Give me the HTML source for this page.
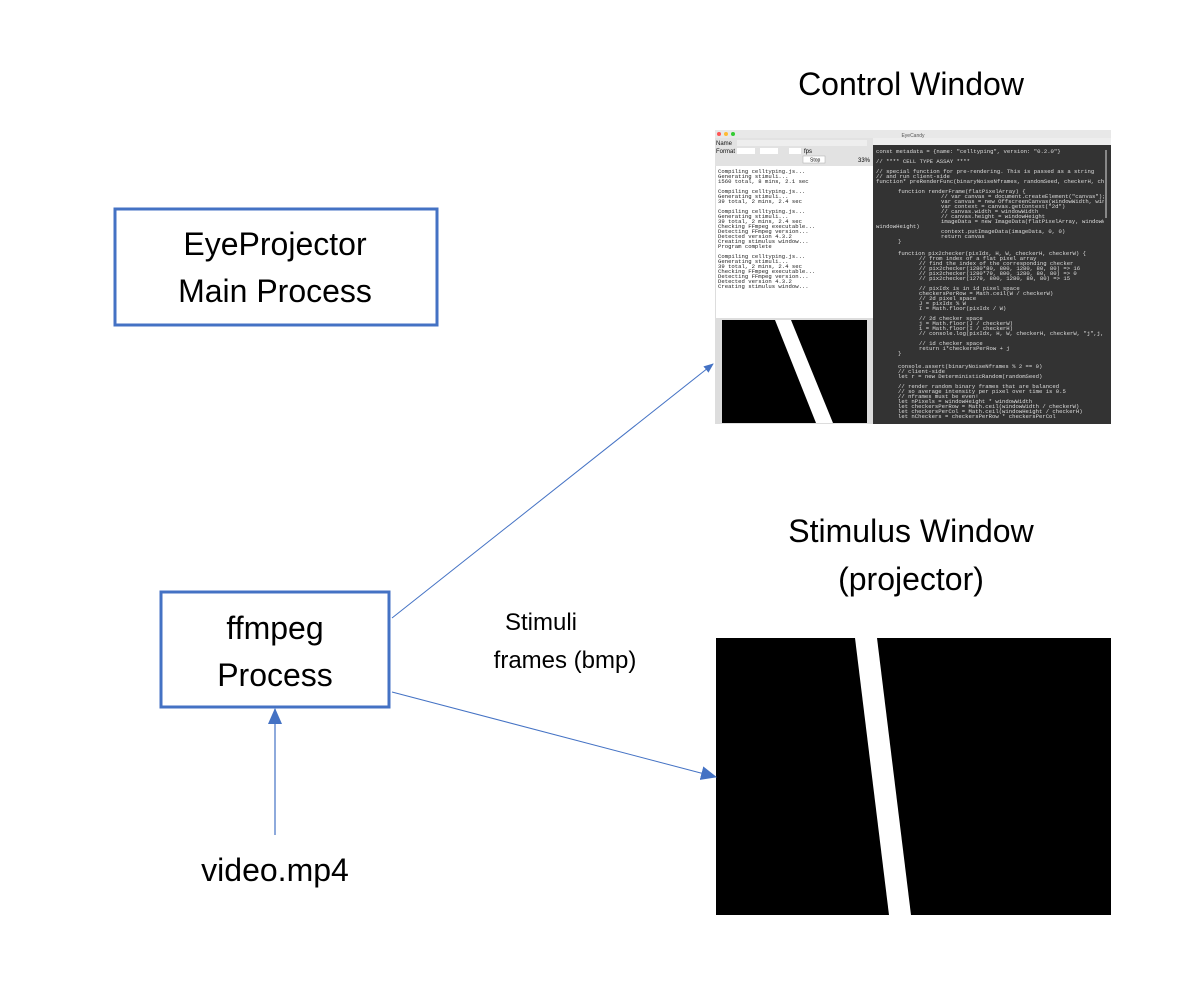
<!DOCTYPE html>
<html><head><style>
body{margin:0;background:#fff;}
svg text{font-family:"Liberation Sans",sans-serif;}
svg .c text{font-family:"Liberation Mono",monospace;font-size:5.6px;fill:#ddd;}
svg .l text{font-family:"Liberation Mono",monospace;font-size:5.6px;fill:#222;}
</style></head><body>
<svg width="1200" height="1000" viewBox="0 0 1200 1000" xmlns="http://www.w3.org/2000/svg">
<defs><marker id="a" markerWidth="10" markerHeight="8" refX="9" refY="4" orient="auto" markerUnits="userSpaceOnUse"><path d="M0,0 L10,4 L0,8z" fill="#4472C4"/></marker>
<marker id="b" markerWidth="16" markerHeight="14" refX="15" refY="7" orient="auto" markerUnits="userSpaceOnUse"><path d="M0,0 L16,7 L0,14z" fill="#4472C4"/></marker>
<clipPath id="cp"><rect x="873" y="145" width="231" height="279"/></clipPath></defs>
<text x="911" y="95" font-size="32" text-anchor="middle">Control Window</text>
<rect x="115" y="209" width="322" height="116" fill="none" stroke="#4472C4" stroke-width="3"/>
<text x="275" y="255" font-size="32" text-anchor="middle">EyeProjector</text>
<text x="275" y="302" font-size="32" text-anchor="middle">Main Process</text>
<rect x="715" y="130" width="396" height="294" fill="#ddd"/>
<rect x="715" y="130" width="396" height="8" fill="#e8e8e8"/>
<circle cx="719" cy="134" r="2" fill="#f55"/><circle cx="726" cy="134" r="2" fill="#fb3"/><circle cx="733" cy="134" r="2" fill="#3c3"/>
<text x="913" y="137" font-size="5" fill="#555" text-anchor="middle">EyeCandy</text>
<rect x="715" y="138" width="158" height="28" fill="#e2e2e2"/>
<text x="716" y="145" font-size="6" fill="#111">Name</text><rect x="737" y="140" width="130" height="6" fill="#eee"/>
<text x="716" y="153" font-size="6" fill="#111">Format</text><rect x="737" y="148" width="18" height="6" fill="#fff"/><rect x="760" y="148" width="18" height="6" fill="#fff"/><rect x="789" y="148" width="12" height="6" fill="#fff"/><text x="804" y="153" font-size="6">fps</text>
<rect x="803" y="156" width="22" height="7" fill="#fff" stroke="#aaa" stroke-width="0.5"/><text x="810" y="161.5" font-size="5">Stop</text><text x="858" y="162" font-size="6">33%</text>
<rect x="716" y="166" width="157" height="152" fill="#fff"/>
<g class="l">
<text x="718" y="173">Compiling celltyping.js...</text><text x="718" y="178">Generating stimuli...</text><text x="718" y="183">1560 total, 8 mins, 2.1 sec</text>
<text x="718" y="193">Compiling celltyping.js...</text><text x="718" y="198">Generating stimuli...</text><text x="718" y="203">39 total, 2 mins, 2.4 sec</text>
<text x="718" y="213">Compiling celltyping.js...</text><text x="718" y="218">Generating stimuli...</text><text x="718" y="223">39 total, 2 mins, 2.4 sec</text><text x="718" y="228">Checking FFmpeg executable...</text><text x="718" y="233">Detecting FFmpeg version...</text><text x="718" y="238">Detected version 4.3.2</text><text x="718" y="243">Creating stimulus window...</text><text x="718" y="248">Program complete</text>
<text x="718" y="258">Compiling celltyping.js...</text><text x="718" y="263">Generating stimuli...</text><text x="718" y="268">39 total, 2 mins, 2.4 sec</text><text x="718" y="273">Checking FFmpeg executable...</text><text x="718" y="278">Detecting FFmpeg version...</text><text x="718" y="283">Detected version 4.3.2</text><text x="718" y="288">Creating stimulus window...</text>
</g>
<rect x="722" y="320" width="145" height="103" fill="#000"/>
<polygon points="775,320 791,320 833,423 816,423" fill="#fff"/>
<rect x="873" y="138" width="238" height="286" fill="#333"/>
<rect x="873" y="138" width="238" height="7" fill="#eee"/>
<g class="c" clip-path="url(#cp)">
<text x="876" y="153">const metadata = {name: "celltyping", version: "0.2.0"}</text>
<text x="876" y="163">// **** CELL TYPE ASSAY ****</text>
<text x="876" y="173">// special function for pre-rendering. This is passed as a string</text>
<text x="876" y="178">// and run client-side</text>
<text x="876" y="183">function* preRenderFunc(binaryNoiseNframes, randomSeed, checkerH, checkerW) {</text>
<text x="898" y="193">function renderFrame(flatPixelArray) {</text>
<text x="941" y="198">// var canvas = document.createElement("canvas");</text>
<text x="941" y="203">var canvas = new OffscreenCanvas(windowWidth, windowHeight);</text>
<text x="941" y="208">var context = canvas.getContext("2d")</text>
<text x="941" y="213">// canvas.width = windowWidth</text>
<text x="941" y="218">// canvas.height = windowHeight</text>
<text x="941" y="223">imageData = new ImageData(flatPixelArray, windowWidth,</text>
<text x="876" y="228">windowHeight)</text>
<text x="941" y="233">context.putImageData(imageData, 0, 0)</text>
<text x="941" y="238">return canvas</text>
<text x="898" y="243">}</text>
<text x="898" y="255">function pix2checker(pixIdx, H, W, checkerH, checkerW) {</text>
<text x="919" y="260">// from index of a flat pixel array</text>
<text x="919" y="265">// find the index of the corresponding checker</text>
<text x="919" y="270">// pix2checker(1280*80, 800, 1280, 80, 80) =&gt; 16</text>
<text x="919" y="275">// pix2checker(1280*79, 800, 1280, 80, 80) =&gt; 0</text>
<text x="919" y="280">// pix2checker(1279, 800, 1280, 80, 80) =&gt; 15</text>
<text x="919" y="290">// pixIdx is in 1d pixel space</text>
<text x="919" y="295">checkersPerRow = Math.ceil(W / checkerW)</text>
<text x="919" y="300">// 2d pixel space</text>
<text x="919" y="305">J = pixIdx % W</text>
<text x="919" y="310">I = Math.floor(pixIdx / W)</text>
<text x="919" y="320">// 2d checker space</text>
<text x="919" y="325">j = Math.floor(J / checkerW)</text>
<text x="919" y="330">i = Math.floor(I / checkerH)</text>
<text x="919" y="335">// console.log(pixIdx, H, W, checkerH, checkerW, "j",j, "i", i)</text>
<text x="919" y="345">// 1d checker space</text>
<text x="919" y="350">return i*checkersPerRow + j</text>
<text x="898" y="355">}</text>
<text x="898" y="368">console.assert(binaryNoiseNframes % 2 == 0)</text>
<text x="898" y="373">// client-side</text>
<text x="898" y="378">let r = new DeterministicRandom(randomSeed)</text>
<text x="898" y="388">// render random binary frames that are balanced</text>
<text x="898" y="393">// so average intensity per pixel over time is 0.5</text>
<text x="898" y="398">// nframes must be even!</text>
<text x="898" y="403">let nPixels = windowHeight * windowWidth</text>
<text x="898" y="408">let checkersPerRow = Math.ceil(windowWidth / checkerW)</text>
<text x="898" y="413">let checkersPerCol = Math.ceil(windowHeight / checkerH)</text>
<text x="898" y="418">let nCheckers = checkersPerRow * checkersPerCol</text>
</g>
<rect x="1105" y="150" width="2" height="68" fill="#888"/>
<text x="911" y="542" font-size="32" text-anchor="middle">Stimulus Window</text>
<text x="911" y="590" font-size="32" text-anchor="middle">(projector)</text>
<rect x="716" y="638" width="395" height="277" fill="#000"/>
<polygon points="855,638 877,638 911,915 889,915" fill="#fff"/>
<rect x="161" y="592" width="228" height="115" fill="none" stroke="#4472C4" stroke-width="3"/>
<text x="275" y="639" font-size="32" text-anchor="middle">ffmpeg</text>
<text x="275" y="686" font-size="32" text-anchor="middle">Process</text>
<text x="541" y="630" font-size="24" text-anchor="middle">Stimuli</text>
<text x="565" y="668" font-size="24" text-anchor="middle">frames (bmp)</text>
<line x1="392" y1="618" x2="713" y2="364" stroke="#4472C4" stroke-width="1" marker-end="url(#a)"/>
<line x1="392" y1="692" x2="716" y2="777" stroke="#4472C4" stroke-width="1" marker-end="url(#b)"/>
<line x1="275" y1="835" x2="275" y2="709" stroke="#4472C4" stroke-width="1.2" marker-end="url(#b)"/>
<text x="275" y="881" font-size="32" text-anchor="middle">video.mp4</text>
</svg>
</body></html>
